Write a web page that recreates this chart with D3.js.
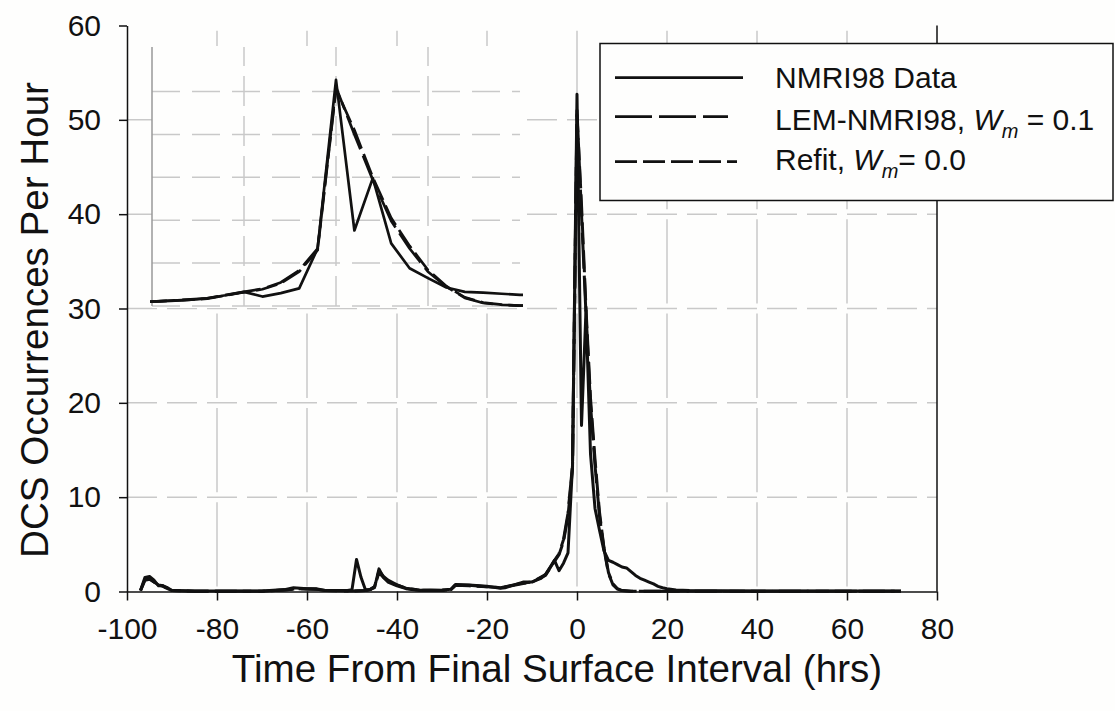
<!DOCTYPE html>
<html><head><meta charset="utf-8">
<script src="https://cdn.jsdelivr.net/npm/d3@7"></script>
<style>
body{margin:0;background:#fefefd;}
svg{display:block;font-family:Arial,"Liberation Sans",sans-serif;}
</style>
</head><body>
<svg id="chart" width="1115" height="711"></svg>
<script>
// ---- data ----
const dataHours = [-97,-96,-95,-94,-93,-92,-91,-90,-85,-70,-65,-63,-60,-58,-56,-51,-50,-49,-48,-47,-46,-45,-44,-43,-42,-40,-38,-35,-30,-28,-27,-24,-20,-17,-16,-14,-12,-10,-9,-8,-7,-6,-5,-4,-3,-2,-1,0,1,2,3,4,5,6,7,8,9,10,11,12,13,14,15,16,17,18,19,20,22,25,30,40,50,60,72];
const dataValues = [0.1,1.5,1.6,1.2,0.6,0.6,0.4,0.1,0.05,0.05,0.2,0.4,0.3,0.3,0.1,0.1,0.2,3.4,1.5,0.15,0.2,0.4,2.4,1.5,1.0,0.6,0.3,0.1,0.15,0.25,0.75,0.7,0.55,0.35,0.4,0.7,1.0,1.0,1.2,1.4,1.8,2.5,3.3,2.2,3.0,4.1,13.4,52.7,17.6,29.8,14.6,8.8,6.5,4.3,3.3,3.1,2.85,2.6,2.5,2.1,1.7,1.4,1.2,1.0,0.8,0.55,0.4,0.3,0.15,0.1,0.08,0.05,0.05,0.05,0.05];

const modelHours = [-97,-96,-95,-94,-93,-92,-91,-90,-85,-70,-65,-62,-58,-56,-50,-47,-46,-45,-44,-43,-42,-40,-38,-35,-30,-28,-27,-24,-20,-17,-14,-12,-10,-7,-5,-4,-3,-2,-1,0,1,2,3,4,5,6,7,8,9,10,12,20,40,72];
const lemValues = [0.1,1.3,1.4,1.0,0.7,0.6,0.3,0.1,0.03,0.03,0.15,0.3,0.25,0.1,0.05,0.1,0.2,0.5,2.2,1.6,1.2,0.7,0.35,0.15,0.1,0.2,0.7,0.65,0.5,0.4,0.7,0.9,1.0,1.8,3.3,4.0,5.5,8.3,13.4,51.0,40.0,29.4,19.8,13.4,8.0,4.5,1.9,0.7,0.25,0.1,0.03,0.02,0.02,0.02];
const refitValues = [0.1,1.2,1.3,1.0,0.7,0.55,0.3,0.1,0.03,0.03,0.15,0.3,0.25,0.1,0.05,0.1,0.2,0.5,2.0,1.5,1.1,0.7,0.35,0.15,0.1,0.2,0.65,0.6,0.5,0.4,0.65,0.85,1.0,1.7,3.2,3.9,5.3,8.0,13.0,50.5,41.0,30.0,20.5,14.0,8.4,4.6,2.0,0.8,0.3,0.1,0.03,0.02,0.02,0.02];

const xTicks = [-100,-80,-60,-40,-20,0,20,40,60,80];
const yTicks = [0,10,20,30,40,50,60];
const yGrid = [10,20,30,40,50];
const insetXGrid = [-5,0,5];
const insetYGrid = [0,10,20,30,40,50];
const legendLabels = ["NMRI98 Data","LEM-NMRI98, ","Refit, "];

// ---- layout ----
const svg = d3.select("#chart");
const x = d3.scaleLinear().domain([-100,80]).range([127,937]);
const y = d3.scaleLinear().domain([0,60]).range([591.5,25.5]);
const xi = d3.scaleLinear().domain([-10,10]).range([152,520]);
const yi = d3.scaleLinear().domain([0,60]).range([306,48.6]);
const gridColor = "#c9c9c9";

const dataPts = dataHours.map((h,i)=>[h,dataValues[i]]);
const lemPts = modelHours.map((h,i)=>[h,lemValues[i]]);
const refitPts = modelHours.map((h,i)=>[h,refitValues[i]]);
const series = [
  {pts:dataPts, dash:null},
  {pts:lemPts, dash:"36,7"},
  {pts:refitPts, dash:"22,6"}
];

// main grid
svg.append("g").selectAll("line").data(xTicks.slice(1,-1)).join("line")
  .attr("x1",d=>x(d)).attr("x2",d=>x(d)).attr("y1",y(0)).attr("y2",y(60))
  .attr("stroke",gridColor).attr("stroke-width",1.5)
  .attr("stroke-dasharray","84.3,10").attr("stroke-dashoffset",-5);
svg.append("g").selectAll("line").data(yGrid).join("line")
  .attr("x1",x(-100)).attr("x2",x(80)).attr("y1",d=>y(d)).attr("y2",d=>y(d))
  .attr("stroke",gridColor).attr("stroke-width",1.5)
  .attr("stroke-dasharray","30,10");

// main series
const line = d3.line().x(d=>x(d[0])).y(d=>y(d[1]));
svg.append("g").selectAll("path").data(series).join("path")
  .attr("d",d=>line(d.pts)).attr("fill","none").attr("stroke","#111")
  .attr("stroke-width",3).attr("stroke-linejoin","round")
  .attr("stroke-dasharray",d=>d.dash);

// inset
const inset = svg.append("g");
inset.append("rect").attr("x",152).attr("y",46).attr("width",374).attr("height",262).attr("fill","#fefefd");
inset.append("g").selectAll("line").data(insetXGrid).join("line")
  .attr("x1",d=>xi(d)).attr("x2",d=>xi(d)).attr("y1",yi(0)).attr("y2",47)
  .attr("stroke",gridColor).attr("stroke-width",1.5).attr("stroke-dasharray","30,10");
inset.append("g").selectAll("line").data(insetYGrid).join("line")
  .attr("x1",xi(-10)).attr("x2",xi(10)).attr("y1",d=>yi(d)).attr("y2",d=>yi(d))
  .attr("stroke",gridColor).attr("stroke-width",1.5).attr("stroke-dasharray","28,12");
inset.append("line").attr("x1",xi(-10)).attr("x2",xi(-10)).attr("y1",47).attr("y2",yi(0))
  .attr("stroke","#999").attr("stroke-width",1.5);
svg.append("clipPath").attr("id","ic").append("rect").attr("x",150).attr("y",40).attr("width",373).attr("height",270);
const iline = d3.line().x(d=>xi(d[0])).y(d=>yi(d[1]));
inset.append("g").attr("clip-path","url(#ic)").selectAll("path").data(series).join("path")
  .attr("d",d=>iline(d.pts)).attr("fill","none").attr("stroke","#111")
  .attr("stroke-width",2.7).attr("stroke-linejoin","round")
  .attr("stroke-dasharray",d=>d.dash);

// axes
const ax = svg.append("g").attr("transform",`translate(0,${y(0)})`)
  .call(d3.axisBottom(x).tickValues(xTicks).tickFormat(d=>String(d)).tickSize(9).tickSizeOuter(0).tickPadding(17));
const ay = svg.append("g").attr("transform",`translate(${x(-100)},0)`)
  .call(d3.axisLeft(y).tickValues(yTicks).tickFormat(d=>String(d)).tickSize(8).tickSizeOuter(0).tickPadding(18));
[ax,ay].forEach(g=>{
  g.select(".domain").attr("stroke","#111").attr("stroke-width",1.5);
  g.selectAll(".tick line").attr("stroke","#111").attr("stroke-width",1.5);
  g.selectAll(".tick text").attr("font-size",30).attr("fill","#111")
    .attr("font-family","Arial, 'Liberation Sans', sans-serif");
});
svg.append("line").attr("x1",x(80)).attr("x2",x(80)).attr("y1",y(60)).attr("y2",y(0))
  .attr("stroke","#111").attr("stroke-width",1.5);

// titles
svg.append("text").attr("x",557).attr("y",682).attr("text-anchor","middle")
  .attr("font-size",38.6).attr("fill","#111").text("Time From Final Surface Interval (hrs)");
svg.append("text").attr("transform","translate(48,320) rotate(-90)").attr("text-anchor","middle")
  .attr("font-size",38.6).attr("fill","#111").text("DCS Occurrences Per Hour");

// legend
const lg = svg.append("g");
lg.append("rect").attr("x",600).attr("y",43.5).attr("width",513).attr("height",157)
  .attr("fill","#fefefd").attr("stroke","#111").attr("stroke-width",1.5);
const legendRows = [
  {y:77.7, x2:743, dash:null},
  {y:116.7, x2:728, dash:"37,7"},
  {y:161.7, x2:737, dash:"22,6"}
];
lg.selectAll("line").data(legendRows).join("line")
  .attr("x1",615).attr("x2",d=>d.x2).attr("y1",d=>d.y).attr("y2",d=>d.y)
  .attr("stroke","#111").attr("stroke-width",2.8).attr("stroke-dasharray",d=>d.dash);
lg.append("text").attr("x",775).attr("y",88).attr("font-size",30).attr("fill","#111").text(legendLabels[0]);
const t1 = lg.append("text").attr("x",775).attr("y",130).attr("font-size",30).attr("fill","#111");
t1.append("tspan").text(legendLabels[1]);
t1.append("tspan").attr("font-style","italic").text("W");
t1.append("tspan").attr("font-style","italic").attr("font-size",20).attr("dy",8).text("m");
t1.append("tspan").attr("dy",-8).text(" = 0.1");
const t2 = lg.append("text").attr("x",775).attr("y",170).attr("font-size",30).attr("fill","#111");
t2.append("tspan").text(legendLabels[2]);
t2.append("tspan").attr("font-style","italic").text("W");
t2.append("tspan").attr("font-style","italic").attr("font-size",20).attr("dy",8).text("m");
t2.append("tspan").attr("dy",-8).text("= 0.0");
</script>
</body></html>
